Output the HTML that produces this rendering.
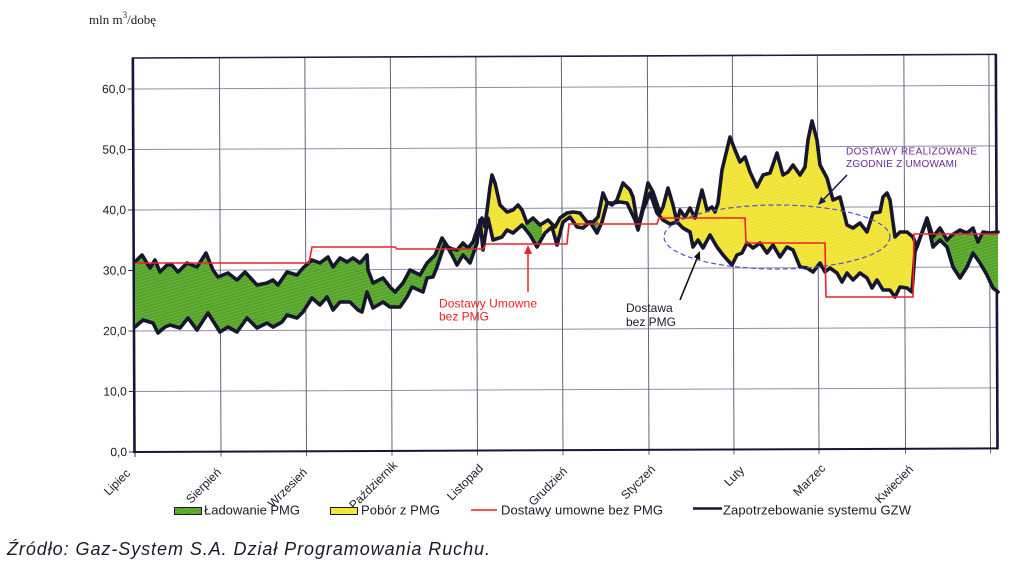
<!DOCTYPE html>
<html>
<head>
<meta charset="utf-8">
<style>
  html,body{margin:0;padding:0;background:#ffffff;}
  svg{display:block;}
  text{font-family:"Liberation Sans",Arial,sans-serif;}
</style>
</head>
<body>
<svg width="1011" height="567" viewBox="0 0 1011 567" xmlns="http://www.w3.org/2000/svg">
  <defs>
    <pattern id="gp" width="3" height="3" patternUnits="userSpaceOnUse" patternTransform="rotate(-16)">
      <rect width="3" height="3" fill="#52a02c"/>
      <rect width="3" height="1.2" fill="#6bb536"/>
    </pattern>
    <pattern id="yp" width="3" height="3" patternUnits="userSpaceOnUse" patternTransform="rotate(-16)">
      <rect width="3" height="3" fill="#f4e73e"/>
      <rect width="3" height="1.2" fill="#ece036"/>
    </pattern>
    <clipPath id="greenclip">
      <rect x="120" y="100" width="361" height="300"/>
      <rect x="525" y="100" width="17" height="300"/>
      <rect x="585" y="100" width="13" height="300"/>
      <rect x="914" y="100" width="90" height="300"/>
    </clipPath>
  </defs>

  <!-- unit label -->
  <text x="89" y="24" style="font-family:'Liberation Serif',serif" font-size="13" fill="#1a1a2a">mln m<tspan dy="-6" font-size="9">3</tspan><tspan dy="6">/dobę</tspan></text>

  <!-- grid & frame (slightly rotated like the scan) -->
  <g transform="rotate(-0.24 134 452)">
    <g stroke="#8e8ea8" stroke-width="1">
      <line x1="134" y1="89" x2="997" y2="89"/>
      <line x1="134" y1="149.5" x2="997" y2="149.5"/>
      <line x1="134" y1="210" x2="997" y2="210"/>
      <line x1="134" y1="270.5" x2="997" y2="270.5"/>
      <line x1="134" y1="331" x2="997" y2="331"/>
      <line x1="134" y1="391.5" x2="997" y2="391.5"/>
    </g>
    <g stroke="#66667a" stroke-width="1">
      <line x1="221" y1="58" x2="221" y2="457"/>
      <line x1="306.5" y1="58" x2="306.5" y2="457"/>
      <line x1="392" y1="58" x2="392" y2="457"/>
      <line x1="477.5" y1="58" x2="477.5" y2="457"/>
      <line x1="563" y1="58" x2="563" y2="457"/>
      <line x1="649" y1="58" x2="649" y2="457"/>
      <line x1="734" y1="58" x2="734" y2="457"/>
      <line x1="819" y1="58" x2="819" y2="457"/>
      <line x1="905.5" y1="58" x2="905.5" y2="457"/>
      <line x1="990.5" y1="58" x2="990.5" y2="457"/>
    </g>
    <!-- y ticks -->
    <g stroke="#333" stroke-width="1">
      <line x1="129" y1="89" x2="134" y2="89"/>
      <line x1="129" y1="149.5" x2="134" y2="149.5"/>
      <line x1="129" y1="210" x2="134" y2="210"/>
      <line x1="129" y1="270.5" x2="134" y2="270.5"/>
      <line x1="129" y1="331" x2="134" y2="331"/>
      <line x1="129" y1="391.5" x2="134" y2="391.5"/>
      <line x1="129" y1="452" x2="134" y2="452"/>
      <line x1="135" y1="452" x2="135" y2="457"/>
    </g>
    <!-- frame -->
    <line x1="134" y1="58" x2="998" y2="58" stroke="#1c1c3a" stroke-width="1.6"/>
    <line x1="134.5" y1="57.5" x2="134.5" y2="453" stroke="#15153a" stroke-width="2.6"/>
    <line x1="997.5" y1="57.5" x2="997.5" y2="453" stroke="#15153a" stroke-width="2.6"/>
    <line x1="134" y1="452" x2="998" y2="452" stroke="#15153a" stroke-width="2"/>
    <!-- y labels -->
    <g font-size="12" fill="#1a1a2a" text-anchor="end">
      <text x="127" y="93">60,0</text>
      <text x="127" y="153.5">50,0</text>
      <text x="127" y="214">40,0</text>
      <text x="127" y="274.5">30,0</text>
      <text x="127" y="335">20,0</text>
      <text x="127" y="395.5">10,0</text>
      <text x="127" y="456">0,0</text>
    </g>
  </g>

  <!-- fills -->
  <polygon fill="url(#yp)" fill-rule="nonzero" points="135,262 142,255 150,268 155,260 160,272 167,265 172,265 178,272 187,263 197,267 206,253 213,270 218,277 228,273 237,280 245,272 257,285 267,283 273,280 278,285 287,272 297,275 303,268 312,260 320,263 328,257 333,267 340,258 347,262 353,258 360,263 367,255 368,270 373,283 383,278 390,287 395,292 403,283 410,270 420,275 427,263 435,255 442,238 448,247 452,249 457,250 463,243 468,248 473,242 478,227 482,218 485,227 490,187 492,175 495,183 500,205 507,212 513,210 518,205 522,210 527,223 533,218 540,225 548,220 555,227 560,218 567,213 573,212 580,213 587,222 593,222 598,217 603,193 607,202 612,205 617,200 623,183 630,190 633,197 638,227 643,207 648,183 653,192 660,213 663,207 668,188 673,205 677,222 680,210 685,217 690,208 695,218 702,190 707,210 712,207 715,212 718,203 722,170 730,137 735,150 740,162 745,157 750,172 757,187 763,175 770,173 777,153 783,175 788,172 793,165 800,175 805,167 808,140 812,121 817,140 820,165 827,178 833,200 840,197 847,225 853,228 860,223 867,232 873,213 880,212 883,197 887,193 890,200 895,237 900,232 907,232 913,237 917,247 920,238 927,218 933,237 940,228 947,240 952,235 960,230 967,233 973,228 978,242 983,232 990,233 998,232 998,292 993,288 987,275 980,263 973,253 967,267 960,278 953,267 947,247 940,240 933,247 927,220 920,238 915,252 912,292 907,288 900,287 895,297 890,290 883,290 877,280 872,288 867,278 860,273 853,280 847,273 842,282 837,273 830,268 825,272 820,263 813,272 807,268 800,267 793,250 787,247 780,257 773,245 767,253 760,243 753,248 747,243 742,253 737,255 732,265 723,255 717,247 710,235 703,248 698,240 693,247 690,232 683,228 677,222 670,224 663,220 657,213 650,193 643,210 638,230 635,220 627,203 620,202 613,203 607,203 602,222 597,233 590,222 583,228 577,227 570,217 563,222 557,245 552,227 545,233 537,247 530,235 522,225 513,233 507,230 502,237 493,240 488,218 483,250 480,220 477,243 470,263 463,255 457,265 452,255 445,243 437,267 433,277 427,278 423,292 412,287 407,297 400,307 390,307 383,302 373,308 367,292 362,312 358,310 350,302 340,302 333,310 327,297 320,305 312,298 303,312 297,318 287,315 282,322 273,327 267,323 257,328 247,318 237,332 228,327 220,332 208,313 197,330 188,318 180,328 170,325 165,327 158,333 153,323 143,320 135,327"/>
  <g clip-path="url(#greenclip)">
    <polygon fill="url(#gp)" fill-rule="nonzero" points="135,262 142,255 150,268 155,260 160,272 167,265 172,265 178,272 187,263 197,267 206,253 213,270 218,277 228,273 237,280 245,272 257,285 267,283 273,280 278,285 287,272 297,275 303,268 312,260 320,263 328,257 333,267 340,258 347,262 353,258 360,263 367,255 368,270 373,283 383,278 390,287 395,292 403,283 410,270 420,275 427,263 435,255 442,238 448,247 452,249 457,250 463,243 468,248 473,242 478,227 482,218 485,227 490,187 492,175 495,183 500,205 507,212 513,210 518,205 522,210 527,223 533,218 540,225 548,220 555,227 560,218 567,213 573,212 580,213 587,222 593,222 598,217 603,193 607,202 612,205 617,200 623,183 630,190 633,197 638,227 643,207 648,183 653,192 660,213 663,207 668,188 673,205 677,222 680,210 685,217 690,208 695,218 702,190 707,210 712,207 715,212 718,203 722,170 730,137 735,150 740,162 745,157 750,172 757,187 763,175 770,173 777,153 783,175 788,172 793,165 800,175 805,167 808,140 812,121 817,140 820,165 827,178 833,200 840,197 847,225 853,228 860,223 867,232 873,213 880,212 883,197 887,193 890,200 895,237 900,232 907,232 913,237 917,247 920,238 927,218 933,237 940,228 947,240 952,235 960,230 967,233 973,228 978,242 983,232 990,233 998,232 998,292 993,288 987,275 980,263 973,253 967,267 960,278 953,267 947,247 940,240 933,247 927,220 920,238 915,252 912,292 907,288 900,287 895,297 890,290 883,290 877,280 872,288 867,278 860,273 853,280 847,273 842,282 837,273 830,268 825,272 820,263 813,272 807,268 800,267 793,250 787,247 780,257 773,245 767,253 760,243 753,248 747,243 742,253 737,255 732,265 723,255 717,247 710,235 703,248 698,240 693,247 690,232 683,228 677,222 670,224 663,220 657,213 650,193 643,210 638,230 635,220 627,203 620,202 613,203 607,203 602,222 597,233 590,222 583,228 577,227 570,217 563,222 557,245 552,227 545,233 537,247 530,235 522,225 513,233 507,230 502,237 493,240 488,218 483,250 480,220 477,243 470,263 463,255 457,265 452,255 445,243 437,267 433,277 427,278 423,292 412,287 407,297 400,307 390,307 383,302 373,308 367,292 362,312 358,310 350,302 340,302 333,310 327,297 320,305 312,298 303,312 297,318 287,315 282,322 273,327 267,323 257,328 247,318 237,332 228,327 220,332 208,313 197,330 188,318 180,328 170,325 165,327 158,333 153,323 143,320 135,327"/>
  </g>

  <!-- thick data lines -->
  <g fill="none" stroke="#16162e" stroke-width="3.6" stroke-linejoin="round" stroke-linecap="round">
    <polyline points="135,262 142,255 150,268 155,260 160,272 167,265 172,265 178,272 187,263 197,267 206,253 213,270 218,277 228,273 237,280 245,272 257,285 267,283 273,280 278,285 287,272 297,275 303,268 312,260 320,263 328,257 333,267 340,258 347,262 353,258 360,263 367,255 368,270 373,283 383,278 390,287 395,292 403,283 410,270 420,275 427,263 435,255 442,238 448,247 452,249 457,250 463,243 468,248 473,242 478,227 482,218 485,227 490,187 492,175 495,183 500,205 507,212 513,210 518,205 522,210 527,223 533,218 540,225 548,220 555,227 560,218 567,213 573,212 580,213 587,222 593,222 598,217 603,193 607,202 612,205 617,200 623,183 630,190 633,197 638,227 643,207 648,183 653,192 660,213 663,207 668,188 673,205 677,222 680,210 685,217 690,208 695,218 702,190 707,210 712,207 715,212 718,203 722,170 730,137 735,150 740,162 745,157 750,172 757,187 763,175 770,173 777,153 783,175 788,172 793,165 800,175 805,167 808,140 812,121 817,140 820,165 827,178 833,200 840,197 847,225 853,228 860,223 867,232 873,213 880,212 883,197 887,193 890,200 895,237 900,232 907,232 913,237 917,247 920,238 927,218 933,237 940,228 947,240 952,235 960,230 967,233 973,228 978,242 983,232 990,233 998,232"/>
    <polyline points="135,327 143,320 153,323 158,333 165,327 170,325 180,328 188,318 197,330 208,313 220,332 228,327 237,332 247,318 257,328 267,323 273,327 282,322 287,315 297,318 303,312 312,298 320,305 327,297 333,310 340,302 350,302 358,310 362,312 367,292 373,308 383,302 390,307 400,307 407,297 412,287 423,292 427,278 433,277 437,267 445,243 452,255 457,265 463,255 470,263 477,243 480,220 483,250 488,218 493,240 502,237 507,230 513,233 522,225 530,235 537,247 545,233 552,227 557,245 563,222 570,217 577,227 583,228 590,222 597,233 602,222 607,203 613,203 620,202 627,203 635,220 638,230 643,210 650,193 657,213 663,220 670,224 677,222 683,228 690,232 693,247 698,240 703,248 710,235 717,247 723,255 732,265 737,255 742,253 747,243 753,248 760,243 767,253 773,245 780,257 787,247 793,250 800,267 807,268 813,272 820,263 825,272 830,268 837,273 842,282 847,273 853,280 860,273 867,278 872,288 877,280 883,290 890,290 895,297 900,287 907,288 912,292 915,252 920,238 927,220 933,247 940,240 947,247 953,267 960,278 967,267 973,253 980,263 987,275 993,288 998,292"/>
  </g>

  <!-- red contract step line -->
  <polyline fill="none" stroke="#f0202a" stroke-width="1.6" points="135,263 309,263 312,247 395,247 397,249 483,249 486,244 567,244 569,224 657,224 659,218 745,218 746,243 825,243 826,297 913,297 914,234 998,234"/>

  <!-- dashed ellipse -->
  <ellipse cx="777" cy="237" rx="113" ry="32" fill="none" stroke="#5a4fcf" stroke-width="1.2" stroke-dasharray="5,3"/>

  <!-- arrows -->
  <line x1="528" y1="292" x2="528" y2="252" stroke="#f0202a" stroke-width="1.5"/>
  <polygon points="528,245 524,254 532,254" fill="#f0202a"/>
  <line x1="680" y1="300" x2="698" y2="256" stroke="#111" stroke-width="1.6"/>
  <polygon points="700,251 700.2,259.7 693.8,257.1" fill="#111"/>
  <line x1="847" y1="175" x2="822" y2="201" stroke="#1a1a5a" stroke-width="1.6"/>
  <polygon points="818,205 826.1,201.6 821.1,196.8" fill="#1a1a5a"/>

  <!-- annotations -->
  <g font-size="12" fill="#f0202a">
    <text x="439" y="307.5" textLength="98">Dostawy Umowne</text>
    <text x="439" y="320.5">bez PMG</text>
  </g>
  <g font-size="12" fill="#1a1a2a">
    <text x="626" y="312">Dostawa</text>
    <text x="626" y="326">bez PMG</text>
  </g>
  <g font-size="10" fill="#6a2a9a">
    <text x="846" y="154.5" textLength="131">DOSTAWY REALIZOWANE</text>
    <text x="846" y="167" textLength="111">ZGODNIE Z UMOWAMI</text>
  </g>

  <!-- x labels -->
  <g font-size="12" fill="#1a1a2a" text-anchor="end">
    <text transform="translate(131,474) rotate(-45)">Lipiec</text>
    <text transform="translate(222,473) rotate(-45)">Sierpień</text>
    <text transform="translate(308,473) rotate(-45)">Wrzesień</text>
    <text transform="translate(398,466) rotate(-45)">Październik</text>
    <text transform="translate(484,469) rotate(-45)">Listopad</text>
    <text transform="translate(568,472) rotate(-45)">Grudzień</text>
    <text transform="translate(656,470) rotate(-45)">Styczeń</text>
    <text transform="translate(745,471) rotate(-45)">Luty</text>
    <text transform="translate(826,469) rotate(-45)">Marzec</text>
    <text transform="translate(914,470) rotate(-45)">Kwiecień</text>
  </g>

  <!-- legend -->
  <rect x="174.5" y="507.5" width="27" height="7" fill="url(#gp)" stroke="#1a1a2a" stroke-width="1"/>
  <text x="204" y="514.5" font-size="13" fill="#1a1a2a" textLength="96">Ładowanie PMG</text>
  <rect x="330.5" y="507.5" width="27" height="7" fill="url(#yp)" stroke="#1a1a2a" stroke-width="1"/>
  <text x="361" y="514.5" font-size="13" fill="#1a1a2a" textLength="79">Pobór z PMG</text>
  <line x1="471" y1="510" x2="497" y2="510" stroke="#f0202a" stroke-width="1.5"/>
  <text x="501" y="514.5" font-size="13" fill="#1a1a2a" textLength="162">Dostawy umowne bez PMG</text>
  <line x1="693" y1="508.5" x2="722" y2="508.5" stroke="#16162e" stroke-width="2.6"/>
  <text x="723" y="514.5" font-size="13" fill="#1a1a2a" textLength="188">Zapotrzebowanie systemu GZW</text>

  <!-- source -->
  <text x="7" y="555" font-size="18" font-style="italic" fill="#1a1a2a" textLength="483">Źródło: Gaz-System S.A. Dział Programowania Ruchu.</text>
</svg>
</body>
</html>
